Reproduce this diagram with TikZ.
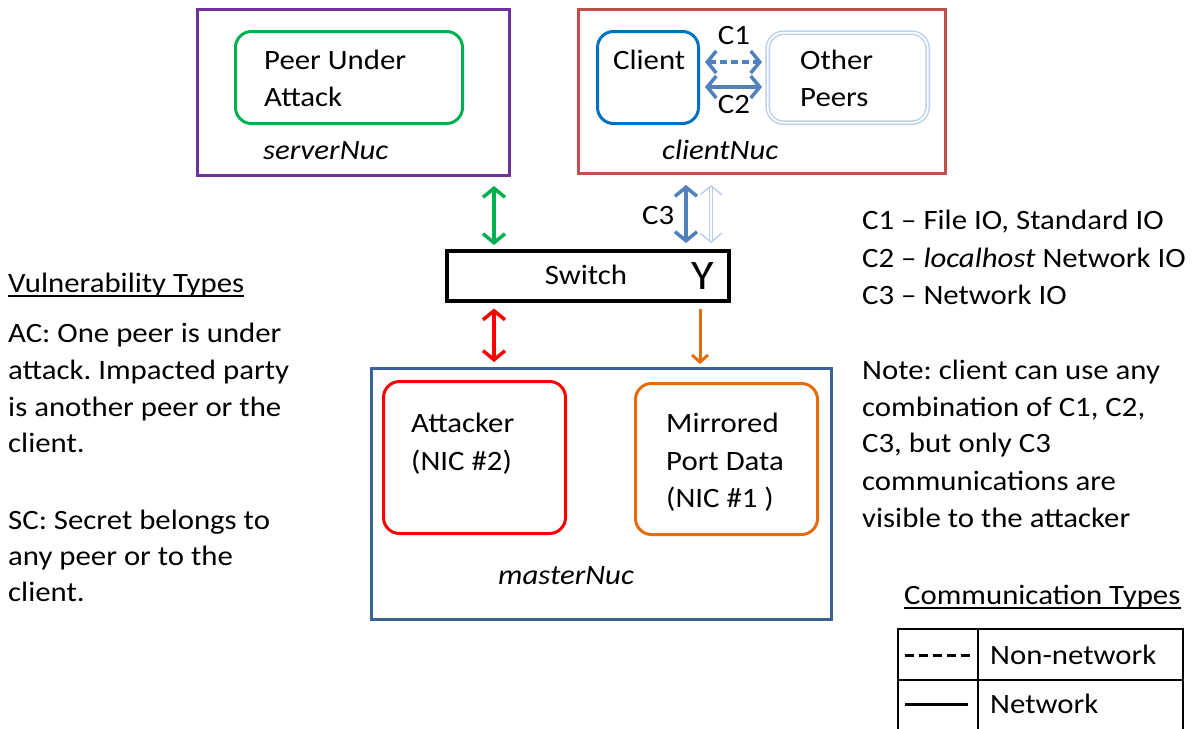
\documentclass[tikz,border=0pt]{standalone}
\usepackage{fontspec}
\setmainfont{Carlito}[FakeStretch=1.1]
\usetikzlibrary{arrows.meta,calc}
\frenchspacing

\definecolor{nucpurple}{RGB}{112,48,160}
\definecolor{peergreen}{RGB}{0,176,80}
\definecolor{nucred}{RGB}{192,80,77}
\definecolor{clientblue}{RGB}{0,112,192}
\definecolor{linkblue}{RGB}{79,129,189}
\definecolor{paleblue}{RGB}{184,206,234}
\definecolor{attred}{RGB}{255,0,0}
\definecolor{mirrorange}{RGB}{228,108,10}
\definecolor{nucsteel}{RGB}{58,98,148}

\tikzset{
  txt/.style={inner sep=0pt, anchor=base west, font=\fontsize{28}{37}\selectfont},
  ctxt/.style={inner sep=0pt, anchor=base, font=\fontsize{28}{37}\selectfont},
  nucbox/.style={draw, line width=3pt, anchor=north west, inner sep=0pt},
  roundbox/.style={draw, line width=3pt, rounded corners=16pt, anchor=north west, inner sep=0pt},
  biarrow/.style={line width=3.5pt, {Straight Barb[length=9pt,width=22pt]}-{Straight Barb[length=9pt,width=22pt]}},
  onearrow/.style={line width=3pt, -{Straight Barb[length=7pt,width=16pt]}},
}

\begin{document}
\begin{tikzpicture}[x=1pt,y=-1pt]
\useasboundingbox (0,0) rectangle (1193,728);
\clip (0,0) rectangle (1193,728);

% ---------- serverNuc ----------
\node[nucbox, draw=nucpurple, minimum width=312pt, minimum height=166pt] (server) at (196,8) {};
\node[roundbox, draw=peergreen, minimum width=227pt, minimum height=92pt] (peer) at (234,30) {};
\node[txt] (peer1) at (264,69) {Peer Under};
\node[txt] (peer2) at (264,106) {Attack};
\node[txt, font=\fontsize{28}{37}\selectfont\itshape] (serverlbl) at (263,159) {serverNuc};

% ---------- clientNuc ----------
\node[nucbox, draw=nucred, minimum width=367pt, minimum height=164pt] (clientnuc) at (577,8) {};
\node[roundbox, draw=clientblue, minimum width=101pt, minimum height=92pt] (client) at (596,30) {};
\node[txt] (clienttxt) at (613,69) {Client};
\node[roundbox, draw=paleblue, line width=1.4pt, double=white, double distance=1.8pt,
      minimum width=160pt, minimum height=90pt] (others) at (767,32) {};
\node[txt] (others1) at (800,69) {Other};
\node[txt] (others2) at (800,106) {Peers};
\node[ctxt] (c1lbl) at (734,44) {C1};
\node[ctxt] (c2lbl) at (734,113) {C2};
\node[txt, font=\fontsize{28}{37}\selectfont\itshape] (clientlbl) at (662,159) {clientNuc};

% C1 (non-network) and C2 (network) between client and other peers
\draw[biarrow, linkblue, dash pattern=on 7pt off 4pt, shorten <=5pt, shorten >=5pt]
  (client.east |- 0,62) -- (others.west |- 0,62);
\draw[biarrow, linkblue, shorten <=5pt, shorten >=5pt]
  (client.east |- 0,87) -- (others.west |- 0,87);

% ---------- Switch ----------
\node[nucbox, draw=black, line width=3.5pt, minimum width=282pt, minimum height=50pt] (switch) at (445,249) {};
\node[ctxt] (switchtxt) at (586,284) {Switch};
\node[inner sep=0pt, anchor=base, font=\fontsize{42}{42}\selectfont] (ysym) at (703,289) {Y};

% links to the switch
\draw[biarrow, peergreen, shorten <=9pt, shorten >=4pt]
  (494,0 |- server.south) -- (494,0 |- switch.north);
\draw[biarrow, linkblue, shorten <=10pt, shorten >=6pt]
  (686,0 |- clientnuc.south) -- (686,0 |- switch.north);
\draw[biarrow, paleblue, line width=1.4pt, double=white, double distance=1.8pt, shorten <=10pt, shorten >=6pt]
  (711,0 |- clientnuc.south) -- (711,0 |- switch.north);
\node[txt] (c3lbl) at (642,224) {C3};

% ---------- masterNuc ----------
\node[nucbox, draw=nucsteel, minimum width=460pt, minimum height=251pt] (master) at (370,367) {};
\node[roundbox, draw=attred, minimum width=182pt, minimum height=152pt] (attacker) at (382,380) {};
\node[txt] (att1) at (411,432) {Attacker};
\node[txt] (att2) at (411,470) {(NIC \#2)};
\node[roundbox, draw=mirrorange, minimum width=182pt, minimum height=151pt] (mirror) at (634,382) {};
\node[txt] (mir1) at (666,432) {Mirrored};
\node[txt] (mir2) at (666,470) {Port Data};
\node[txt] (mir3) at (666,507) {(NIC \#1 )};
\node[ctxt, font=\fontsize{28}{37}\selectfont\itshape] (masterlbl) at (566,584) {masterNuc};

\draw[biarrow, attred, shorten <=6pt, shorten >=5pt]
  (494,0 |- switch.south) -- (494,0 |- master.north);
\draw[onearrow, mirrorange, shorten <=6pt, shorten >=3pt]
  (700,0 |- switch.south) -- (700,0 |- master.north);

% ---------- Vulnerability types ----------
\node[txt] (vtitle) at (8,292) {Vulnerability Types};
\draw[line width=1.3pt] ([yshift=-4pt]vtitle.base west) -- ([yshift=-4pt]vtitle.base east);
\node[txt] (ac1) at (8,342) {AC: One peer is under};
\node[txt] (ac2) at (8,379) {attack. Impacted party};
\node[txt] (ac3) at (8,416) {is another peer or the};
\node[txt] (ac4) at (8,452) {client.};
\node[txt] (sc1) at (8,529) {SC: Secret belongs to};
\node[txt] (sc2) at (8,565) {any peer or to the};
\node[txt] (sc3) at (8,601) {client.};

% ---------- channel legend and note ----------
\node[txt] (leg1) at (862,229) {C1 – File IO, Standard IO};
\node[txt] (leg2) at (862,267) {C2 – \textit{localhost} Network IO};
\node[txt] (leg3) at (862,304) {C3 – Network IO};
\node[txt] (note1) at (862,379) {Note: client can use any};
\node[txt] (note2) at (862,416) {combination of C1, C2,};
\node[txt] (note3) at (862,452) {C3, but only C3};
\node[txt] (note4) at (862,490) {communications are};
\node[txt] (note5) at (862,527) {visible to the attacker};

% ---------- communication types table ----------
\node[txt] (ctitle) at (904,604) {Communication Types};
\draw[line width=1.3pt] ([yshift=-4pt]ctitle.base west) -- ([yshift=-4pt]ctitle.base east);
\coordinate (tnw) at (898,629);
\coordinate (tne) at (1183,629);
\draw[line width=1.6pt] (898,740) -- (tnw) -- (tne) -- (1183,740);
\draw[line width=1.6pt] (898,680) -- (1183,680);
\draw[line width=1.6pt] (978,629) -- (978,740);
\draw[line width=3pt, dash pattern=on 9pt off 5pt] (905,655) -- (970,655);
\draw[line width=3pt] (905,704) -- (968,704);
\node[txt] (nonnet) at (990,664) {Non-network};
\node[txt] (net) at (990,713) {Network};
\end{tikzpicture}
\end{document}
